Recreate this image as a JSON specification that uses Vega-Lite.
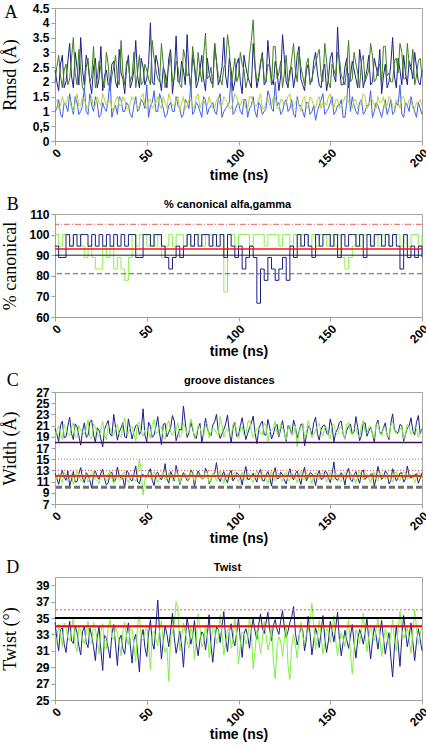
{
"$schema": "https://vega.github.io/schema/vega-lite/v6.json",
"padding": {"left": 0, "top": 1, "right": 3, "bottom": 0},
"spacing": 12,
"background": "white",
"resolve": {"scale": {"color": "independent"}},
"config": {
  "view": {"stroke": "#a6a6a6", "strokeWidth": 1},
  "axis": {"grid": false, "domainColor": "#a0a0a0", "tickColor": "#a0a0a0", "tickSize": 4, "labelPadding": 2, "labelOverlap": false, "labelFont": "Liberation Sans", "labelFontWeight": "bold", "labelFontSize": 12, "labelColor": "#000000", "titleColor": "#000000"},
  "axisY": {"titleFont": "Liberation Serif", "titleFontSize": 18, "titleFontWeight": "normal", "titleX": -45, "titleBaseline": "middle"}
},
"datasets": {
"A": [
{"t":0,"a":2.4,"b":1.0,"c":2.0,"d":1.3},{"t":2,"a":1.7,"b":1.4,"c":2.9,"d":1.1},{"t":4,"a":2.9,"b":0.8,"c":1.8,"d":1.5},{"t":6,"a":2.0,"b":1.2,"c":2.6,"d":1.2},{"t":8,"a":3.3,"b":1.6,"c":2.1,"d":1.4},{"t":10,"a":1.8,"b":0.9,"c":3.5,"d":1.0},{"t":12,"a":2.5,"b":1.3,"c":1.9,"d":1.6},{"t":14,"a":3.5,"b":1.0,"c":2.4,"d":1.2},{"t":16,"a":1.9,"b":1.8,"c":1.7,"d":1.4},{"t":18,"a":2.6,"b":0.9,"c":2.8,"d":1.1},
{"t":20,"a":1.6,"b":1.2,"c":2.2,"d":1.5},{"t":22,"a":2.8,"b":1.5,"c":1.8,"d":1.2},{"t":24,"a":2.1,"b":0.8,"c":2.7,"d":1.3},{"t":26,"a":1.7,"b":1.3,"c":2.0,"d":1.6},{"t":28,"a":2.4,"b":1.0,"c":3.0,"d":1.2},{"t":30,"a":1.9,"b":2.1,"c":1.7,"d":1.4},{"t":32,"a":2.7,"b":1.1,"c":2.5,"d":1.0},{"t":34,"a":1.8,"b":0.9,"c":2.1,"d":1.5},{"t":36,"a":2.3,"b":1.4,"c":3.4,"d":1.2},{"t":38,"a":1.6,"b":1.0,"c":1.9,"d":1.4},
{"t":40,"a":2.9,"b":1.2,"c":2.6,"d":1.1},{"t":42,"a":2.0,"b":0.8,"c":2.2,"d":1.5},{"t":44,"a":3.4,"b":1.5,"c":1.8,"d":1.3},{"t":46,"a":1.8,"b":1.1,"c":2.9,"d":1.2},{"t":48,"a":2.5,"b":1.3,"c":2.0,"d":1.6},{"t":50,"a":2.1,"b":1.9,"c":2.4,"d":1.1},{"t":52,"a":4.0,"b":1.2,"c":1.9,"d":1.4},{"t":54,"a":1.9,"b":1.7,"c":2.8,"d":1.2},{"t":56,"a":2.6,"b":1.0,"c":2.1,"d":1.5},{"t":58,"a":1.7,"b":1.4,"c":3.3,"d":1.1},
{"t":60,"a":2.3,"b":0.8,"c":1.8,"d":1.3},{"t":62,"a":2.8,"b":1.2,"c":2.5,"d":1.6},{"t":64,"a":1.6,"b":1.0,"c":2.0,"d":1.2},{"t":66,"a":3.55,"b":1.5,"c":2.7,"d":1.4},{"t":68,"a":2.0,"b":1.1,"c":1.9,"d":1.0},{"t":70,"a":2.4,"b":0.9,"c":3.1,"d":1.5},{"t":72,"a":3.6,"b":1.3,"c":2.2,"d":1.2},{"t":74,"a":1.8,"b":1.9,"c":1.7,"d":1.4},{"t":76,"a":2.5,"b":1.0,"c":2.6,"d":1.1},{"t":78,"a":2.0,"b":1.2,"c":3.0,"d":1.6},
{"t":80,"a":2.9,"b":0.8,"c":2.0,"d":1.3},{"t":82,"a":1.7,"b":1.4,"c":3.65,"d":1.2},{"t":84,"a":2.3,"b":1.1,"c":2.2,"d":1.5},{"t":86,"a":1.9,"b":1.3,"c":1.8,"d":1.1},{"t":88,"a":2.7,"b":0.9,"c":2.7,"d":1.4},{"t":90,"a":2.1,"b":1.6,"c":2.1,"d":1.2},{"t":92,"a":3.5,"b":1.0,"c":2.5,"d":1.5},{"t":94,"a":1.8,"b":1.2,"c":3.6,"d":1.3},{"t":96,"a":2.4,"b":2.2,"c":1.9,"d":1.1},{"t":98,"a":2.0,"b":1.0,"c":2.8,"d":1.6},
{"t":100,"a":2.8,"b":1.3,"c":2.2,"d":1.2},{"t":102,"a":1.6,"b":0.9,"c":2.6,"d":1.4},{"t":104,"a":2.5,"b":1.4,"c":1.8,"d":1.1},{"t":106,"a":2.0,"b":1.1,"c":2.9,"d":1.5},{"t":108,"a":3.3,"b":1.5,"c":4.1,"d":1.3},{"t":110,"a":1.8,"b":0.8,"c":2.0,"d":1.2},{"t":112,"a":2.6,"b":1.2,"c":2.7,"d":1.6},{"t":114,"a":1.9,"b":1.0,"c":2.1,"d":1.1},{"t":116,"a":3.4,"b":1.7,"c":2.6,"d":1.4},{"t":118,"a":2.1,"b":1.1,"c":1.9,"d":1.2},
{"t":120,"a":2.7,"b":2.0,"c":3.2,"d":1.5},{"t":122,"a":1.7,"b":1.3,"c":2.3,"d":1.1},{"t":124,"a":3.6,"b":1.0,"c":1.8,"d":1.4},{"t":126,"a":2.0,"b":1.4,"c":2.9,"d":1.3},{"t":128,"a":2.4,"b":1.1,"c":2.2,"d":1.6},{"t":130,"a":1.8,"b":0.9,"c":3.3,"d":1.2},{"t":132,"a":2.9,"b":1.5,"c":2.0,"d":1.4},{"t":134,"a":2.1,"b":1.2,"c":2.5,"d":1.0},{"t":136,"a":1.7,"b":0.8,"c":1.9,"d":1.5},{"t":138,"a":2.6,"b":1.3,"c":2.8,"d":1.2},
{"t":140,"a":2.0,"b":1.0,"c":2.1,"d":1.4},{"t":142,"a":3.0,"b":0.7,"c":2.6,"d":1.1},{"t":144,"a":1.9,"b":1.2,"c":3.1,"d":1.5},{"t":146,"a":2.4,"b":1.6,"c":2.0,"d":1.3},{"t":148,"a":1.7,"b":1.0,"c":2.7,"d":1.2},{"t":150,"a":2.8,"b":1.3,"c":1.8,"d":1.6},{"t":152,"a":2.2,"b":0.9,"c":2.4,"d":1.1},{"t":154,"a":3.85,"b":1.2,"c":3.0,"d":1.4},{"t":156,"a":1.9,"b":1.4,"c":2.2,"d":1.2},{"t":158,"a":2.5,"b":0.8,"c":1.9,"d":1.5},
{"t":160,"a":1.8,"b":2.3,"c":3.4,"d":1.3},{"t":162,"a":2.7,"b":1.5,"c":2.1,"d":1.1},{"t":164,"a":2.1,"b":1.0,"c":2.6,"d":1.4},{"t":166,"a":3.1,"b":1.3,"c":1.8,"d":1.2},{"t":168,"a":1.8,"b":0.9,"c":2.9,"d":1.6},{"t":170,"a":2.4,"b":1.2,"c":2.2,"d":1.1},{"t":172,"a":1.9,"b":1.7,"c":3.3,"d":1.4},{"t":174,"a":2.8,"b":1.0,"c":2.0,"d":1.2},{"t":176,"a":2.2,"b":1.2,"c":2.5,"d":1.5},{"t":178,"a":1.6,"b":0.8,"c":1.9,"d":1.3},
{"t":180,"a":2.6,"b":1.4,"c":3.2,"d":1.1},{"t":182,"a":2.0,"b":1.1,"c":2.3,"d":1.5},{"t":184,"a":3.5,"b":0.9,"c":2.0,"d":1.2},{"t":186,"a":1.8,"b":1.3,"c":2.8,"d":1.4},{"t":188,"a":2.4,"b":1.9,"c":3.3,"d":1.1},{"t":190,"a":2.9,"b":0.8,"c":2.1,"d":1.5},{"t":192,"a":1.9,"b":1.2,"c":3.3,"d":1.2},{"t":194,"a":2.5,"b":1.5,"c":2.4,"d":1.4},{"t":196,"a":3.0,"b":1.0,"c":1.9,"d":1.1},{"t":198,"a":2.0,"b":1.3,"c":2.7,"d":1.3},
{"t":200,"a":2.4,"b":0.9,"c":2.2,"d":1.2},
{"t":1,"a":2.0,"b":1.1,"c":2.5,"d":1.4},{"t":3,"a":2.6,"b":0.9,"c":2.2,"d":1.2},{"t":5,"a":1.8,"b":1.3,"c":2.4,"d":1.3},{"t":7,"a":2.7,"b":1.0,"c":1.9,"d":1.5},{"t":9,"a":2.2,"b":1.2,"c":2.8,"d":1.1},{"t":11,"a":3.0,"b":1.5,"c":2.3,"d":1.3},{"t":13,"a":1.9,"b":0.9,"c":3.1,"d":1.2},{"t":15,"a":2.4,"b":1.2,"c":1.8,"d":1.5},{"t":17,"a":2.9,"b":1.0,"c":2.5,"d":1.2},{"t":19,"a":2.0,"b":1.6,"c":2.0,"d":1.4},
{"t":21,"a":2.5,"b":1.0,"c":3.2,"d":1.1},{"t":23,"a":1.8,"b":1.3,"c":2.1,"d":1.5},{"t":25,"a":3.2,"b":0.9,"c":2.4,"d":1.2},{"t":27,"a":2.2,"b":1.1,"c":1.8,"d":1.4},{"t":29,"a":1.9,"b":1.4,"c":2.6,"d":1.3},{"t":31,"a":2.6,"b":0.8,"c":2.2,"d":1.1},{"t":33,"a":2.0,"b":1.2,"c":2.9,"d":1.4},{"t":35,"a":3.1,"b":1.5,"c":1.9,"d":1.2},{"t":37,"a":2.1,"b":1.0,"c":2.3,"d":1.5},{"t":39,"a":2.5,"b":1.3,"c":2.7,"d":1.1},
{"t":41,"a":1.8,"b":0.9,"c":2.0,"d":1.3},{"t":43,"a":2.4,"b":1.2,"c":3.0,"d":1.4},{"t":45,"a":2.2,"b":1.0,"c":2.3,"d":1.1},{"t":47,"a":2.8,"b":1.4,"c":1.9,"d":1.5},{"t":49,"a":1.9,"b":1.1,"c":2.6,"d":1.2},{"t":51,"a":2.6,"b":0.8,"c":2.1,"d":1.4},{"t":53,"a":2.0,"b":1.3,"c":3.4,"d":1.1},{"t":55,"a":2.9,"b":1.0,"c":2.4,"d":1.3},{"t":57,"a":2.1,"b":1.6,"c":2.0,"d":1.2},{"t":59,"a":2.5,"b":1.1,"c":2.6,"d":1.5},
{"t":61,"a":1.8,"b":0.9,"c":2.2,"d":1.1},{"t":63,"a":3.1,"b":1.3,"c":3.0,"d":1.4},{"t":65,"a":2.2,"b":1.0,"c":2.1,"d":1.2},{"t":67,"a":2.0,"b":1.2,"c":2.5,"d":1.5},{"t":69,"a":2.7,"b":0.8,"c":1.8,"d":1.3},{"t":71,"a":1.9,"b":1.4,"c":2.8,"d":1.1},{"t":73,"a":2.3,"b":1.1,"c":2.3,"d":1.4},{"t":75,"a":2.9,"b":0.9,"c":3.2,"d":1.2},{"t":77,"a":1.8,"b":1.3,"c":2.0,"d":1.5},{"t":79,"a":2.4,"b":1.0,"c":2.4,"d":1.1},
{"t":81,"a":2.1,"b":1.5,"c":2.9,"d":1.4},{"t":83,"a":2.8,"b":0.9,"c":2.1,"d":1.2},{"t":85,"a":2.0,"b":1.2,"c":2.5,"d":1.3},{"t":87,"a":3.3,"b":1.0,"c":3.3,"d":1.1},{"t":89,"a":1.9,"b":1.4,"c":2.2,"d":1.5},{"t":91,"a":2.5,"b":0.8,"c":1.9,"d":1.2},{"t":93,"a":2.2,"b":1.1,"c":2.6,"d":1.4},{"t":95,"a":2.8,"b":1.3,"c":3.1,"d":1.1},{"t":97,"a":1.7,"b":0.9,"c":2.3,"d":1.3},{"t":99,"a":2.6,"b":1.2,"c":2.0,"d":1.5},
{"t":101,"a":2.0,"b":1.0,"c":3.0,"d":1.2},{"t":103,"a":2.9,"b":1.4,"c":2.4,"d":1.4},{"t":105,"a":2.2,"b":0.8,"c":2.1,"d":1.1},{"t":107,"a":1.8,"b":1.2,"c":3.4,"d":1.5},{"t":109,"a":2.5,"b":1.0,"c":2.6,"d":1.2},{"t":111,"a":2.1,"b":1.3,"c":2.2,"d":1.4},{"t":113,"a":3.0,"b":0.9,"c":2.9,"d":1.1},{"t":115,"a":2.0,"b":1.1,"c":2.0,"d":1.3},{"t":117,"a":2.6,"b":1.5,"c":2.5,"d":1.2},{"t":119,"a":1.9,"b":1.0,"c":3.2,"d":1.5},
{"t":121,"a":2.4,"b":1.2,"c":2.1,"d":1.1},{"t":123,"a":2.2,"b":0.9,"c":2.7,"d":1.4},{"t":125,"a":2.8,"b":1.3,"c":2.3,"d":1.2},{"t":127,"a":1.8,"b":1.0,"c":1.9,"d":1.5},{"t":129,"a":2.5,"b":1.4,"c":2.8,"d":1.1},{"t":131,"a":2.2,"b":0.8,"c":2.4,"d":1.3},{"t":133,"a":3.2,"b":1.2,"c":3.0,"d":1.2},{"t":135,"a":1.9,"b":1.0,"c":2.2,"d":1.4},{"t":137,"a":2.4,"b":1.3,"c":2.6,"d":1.1},{"t":139,"a":2.0,"b":0.9,"c":1.9,"d":1.5},
{"t":141,"a":2.7,"b":1.2,"c":2.4,"d":1.2},{"t":143,"a":2.3,"b":1.0,"c":2.9,"d":1.4},{"t":145,"a":1.8,"b":1.4,"c":2.2,"d":1.1},{"t":147,"a":2.6,"b":0.9,"c":3.3,"d":1.3},{"t":149,"a":2.1,"b":1.1,"c":2.0,"d":1.5},{"t":151,"a":3.0,"b":1.5,"c":2.6,"d":1.2},{"t":153,"a":2.0,"b":1.0,"c":2.2,"d":1.4},{"t":155,"a":2.5,"b":1.2,"c":2.8,"d":1.1},{"t":157,"a":1.9,"b":0.8,"c":2.1,"d":1.3},{"t":159,"a":2.8,"b":1.3,"c":2.5,"d":1.5},
{"t":161,"a":2.2,"b":1.0,"c":2.0,"d":1.2},{"t":163,"a":2.4,"b":1.2,"c":3.0,"d":1.4},{"t":165,"a":1.8,"b":0.9,"c":2.3,"d":1.1},{"t":167,"a":2.6,"b":1.4,"c":2.7,"d":1.3},{"t":169,"a":2.1,"b":1.0,"c":2.0,"d":1.5},{"t":171,"a":2.9,"b":1.2,"c":2.4,"d":1.2},{"t":173,"a":2.0,"b":0.8,"c":2.9,"d":1.4},{"t":175,"a":2.5,"b":1.3,"c":2.1,"d":1.1},{"t":177,"a":3.1,"b":1.0,"c":2.6,"d":1.3},{"t":179,"a":2.2,"b":1.1,"c":3.2,"d":1.5},
{"t":181,"a":1.8,"b":0.9,"c":2.2,"d":1.2},{"t":183,"a":2.6,"b":1.4,"c":2.0,"d":1.4},{"t":185,"a":2.2,"b":1.0,"c":2.7,"d":1.1},{"t":187,"a":2.8,"b":1.2,"c":2.3,"d":1.3},{"t":189,"a":1.9,"b":0.9,"c":3.0,"d":1.5},{"t":191,"a":2.3,"b":1.3,"c":2.1,"d":1.2},{"t":193,"a":2.7,"b":1.0,"c":2.6,"d":1.4},{"t":195,"a":2.1,"b":1.2,"c":3.1,"d":1.1},{"t":197,"a":2.5,"b":0.8,"c":2.2,"d":1.3},{"t":199,"a":1.9,"b":1.1,"c":2.8,"d":1.4}
],
"B": [
{"t":0,"n":94.4,"g":100},{"t":2,"n":88.9,"g":94.4},{"t":4,"n":88.9,"g":100},{"t":6,"n":100,"g":100},{"t":8,"n":94.4,"g":94.4},{"t":10,"n":100,"g":100},{"t":12,"n":94.4,"g":100},{"t":14,"n":100,"g":94.4},{"t":16,"n":100,"g":88.9},{"t":18,"n":94.4,"g":94.4},
{"t":20,"n":100,"g":88.9},{"t":22,"n":94.4,"g":83.3},{"t":24,"n":100,"g":83.3},{"t":26,"n":94.4,"g":94.4},{"t":28,"n":100,"g":88.9},{"t":30,"n":94.4,"g":94.4},{"t":32,"n":100,"g":83.3},{"t":34,"n":94.4,"g":88.9},{"t":36,"n":100,"g":83.3},{"t":38,"n":94.4,"g":77.8},
{"t":40,"n":100,"g":88.9},{"t":42,"n":100,"g":100},{"t":44,"n":88.9,"g":94.4},{"t":46,"n":88.9,"g":100},{"t":48,"n":100,"g":100},{"t":50,"n":100,"g":94.4},{"t":52,"n":94.4,"g":100},{"t":54,"n":100,"g":94.4},{"t":56,"n":100,"g":100},{"t":58,"n":94.4,"g":88.9},
{"t":60,"n":88.9,"g":94.4},{"t":62,"n":83.3,"g":100},{"t":64,"n":88.9,"g":94.4},{"t":66,"n":94.4,"g":100},{"t":68,"n":88.9,"g":100},{"t":70,"n":94.4,"g":94.4},{"t":72,"n":100,"g":100},{"t":74,"n":94.4,"g":94.4},{"t":76,"n":100,"g":100},{"t":78,"n":94.4,"g":100},
{"t":80,"n":100,"g":94.4},{"t":82,"n":100,"g":100},{"t":84,"n":94.4,"g":100},{"t":86,"n":100,"g":94.4},{"t":88,"n":94.4,"g":100},{"t":90,"n":100,"g":100},{"t":92,"n":88.9,"g":72.2},{"t":94,"n":100,"g":100},{"t":96,"n":94.4,"g":100},{"t":98,"n":88.9,"g":94.4},
{"t":100,"n":94.4,"g":100},{"t":102,"n":83.3,"g":100},{"t":104,"n":88.9,"g":100},{"t":106,"n":94.4,"g":94.4},{"t":108,"n":88.9,"g":100},{"t":110,"n":66.7,"g":100},{"t":112,"n":83.3,"g":100},{"t":114,"n":77.8,"g":94.4},{"t":116,"n":88.9,"g":100},{"t":118,"n":83.3,"g":100},
{"t":120,"n":77.8,"g":100},{"t":122,"n":83.3,"g":94.4},{"t":124,"n":88.9,"g":100},{"t":126,"n":77.8,"g":100},{"t":128,"n":94.4,"g":94.4},{"t":130,"n":88.9,"g":100},{"t":132,"n":100,"g":94.4},{"t":134,"n":94.4,"g":100},{"t":136,"n":100,"g":100},{"t":138,"n":94.4,"g":94.4},
{"t":140,"n":88.9,"g":100},{"t":142,"n":100,"g":94.4},{"t":144,"n":94.4,"g":100},{"t":146,"n":100,"g":100},{"t":148,"n":100,"g":94.4},{"t":150,"n":94.4,"g":100},{"t":152,"n":100,"g":94.4},{"t":154,"n":88.9,"g":100},{"t":156,"n":100,"g":88.9},{"t":158,"n":94.4,"g":83.3},
{"t":160,"n":100,"g":88.9},{"t":162,"n":100,"g":94.4},{"t":164,"n":94.4,"g":100},{"t":166,"n":100,"g":94.4},{"t":168,"n":88.9,"g":100},{"t":170,"n":100,"g":100},{"t":172,"n":94.4,"g":94.4},{"t":174,"n":100,"g":100},{"t":176,"n":100,"g":94.4},{"t":178,"n":94.4,"g":100},
{"t":180,"n":100,"g":100},{"t":182,"n":94.4,"g":94.4},{"t":184,"n":100,"g":100},{"t":186,"n":94.4,"g":100},{"t":188,"n":83.3,"g":94.4},{"t":190,"n":100,"g":100},{"t":192,"n":88.9,"g":94.4},{"t":194,"n":94.4,"g":100},{"t":196,"n":88.9,"g":100},{"t":198,"n":94.4,"g":94.4},
{"t":200,"n":88.9,"g":100}
],
"C": [
{"t":0,"un":20.5,"ug":19.0,"ln":12.5,"lg":11.0},{"t":2,"un":18.2,"ug":21.0,"ln":10.5,"lg":12.5},{"t":4,"un":21.8,"ug":18.5,"ln":13.0,"lg":10.8},{"t":6,"un":19.0,"ug":20.5,"ln":11.2,"lg":12.2},{"t":8,"un":22.5,"ug":19.2,"ln":10.2,"lg":11.5},{"t":10,"un":18.5,"ug":21.5,"ln":12.8,"lg":10.5},{"t":12,"un":20.8,"ug":18.8,"ln":11.0,"lg":12.8},{"t":14,"un":17.5,"ug":20.2,"ln":13.5,"lg":11.2},{"t":16,"un":21.5,"ug":19.5,"ln":10.8,"lg":12.0},{"t":18,"un":19.2,"ug":22.0,"ln":12.2,"lg":10.9},
{"t":20,"un":22.0,"ug":18.6,"ln":9.8,"lg":12.6},{"t":22,"un":18.0,"ug":20.8,"ln":12.9,"lg":11.4},{"t":24,"un":20.2,"ug":19.0,"ln":11.4,"lg":10.6},{"t":26,"un":17.2,"ug":21.8,"ln":13.2,"lg":12.4},{"t":28,"un":21.2,"ug":18.4,"ln":10.4,"lg":11.1},{"t":30,"un":19.5,"ug":20.6,"ln":12.4,"lg":12.9},{"t":32,"un":23.0,"ug":19.3,"ln":10.9,"lg":10.7},{"t":34,"un":18.4,"ug":21.2,"ln":13.6,"lg":12.1},{"t":36,"un":20.6,"ug":18.9,"ln":11.6,"lg":11.3},{"t":38,"un":19.0,"ug":22.4,"ln":9.9,"lg":12.7},
{"t":40,"un":22.2,"ug":19.6,"ln":12.6,"lg":10.8},{"t":42,"un":18.6,"ug":20.9,"ln":11.1,"lg":12.3},{"t":44,"un":21.0,"ug":18.3,"ln":13.8,"lg":11.0},{"t":46,"un":19.4,"ug":21.6,"ln":10.6,"lg":15.0},{"t":48,"un":24.0,"ug":19.1,"ln":12.3,"lg":8.6},{"t":50,"un":18.1,"ug":20.4,"ln":11.8,"lg":12.2},{"t":52,"un":20.9,"ug":18.7,"ln":13.3,"lg":11.6},{"t":54,"un":19.3,"ug":22.1,"ln":10.3,"lg":12.8},{"t":56,"un":22.6,"ug":19.8,"ln":12.7,"lg":10.9},{"t":58,"un":17.6,"ug":20.7,"ln":11.3,"lg":12.4},
{"t":60,"un":21.4,"ug":18.5,"ln":14.2,"lg":11.2},{"t":62,"un":19.8,"ug":21.9,"ln":10.7,"lg":12.6},{"t":64,"un":22.8,"ug":19.2,"ln":12.1,"lg":11.0},{"t":66,"un":18.3,"ug":20.3,"ln":13.9,"lg":12.9},{"t":68,"un":20.4,"ug":18.9,"ln":10.5,"lg":10.7},{"t":70,"un":24.5,"ug":21.4,"ln":12.6,"lg":12.1},{"t":72,"un":18.9,"ug":19.5,"ln":11.2,"lg":11.5},{"t":74,"un":21.7,"ug":22.2,"ln":13.1,"lg":12.7},{"t":76,"un":19.1,"ug":18.6,"ln":10.1,"lg":10.9},{"t":78,"un":20.7,"ug":20.9,"ln":12.9,"lg":12.3},
{"t":80,"un":18.0,"ug":19.3,"ln":11.5,"lg":11.4},{"t":82,"un":22.3,"ug":21.3,"ln":13.4,"lg":12.8},{"t":84,"un":19.6,"ug":18.8,"ln":10.6,"lg":10.8},{"t":86,"un":21.1,"ug":20.6,"ln":12.4,"lg":12.5},{"t":88,"un":23.0,"ug":19.7,"ln":14.4,"lg":11.1},{"t":90,"un":18.7,"ug":22.6,"ln":11.0,"lg":12.9},{"t":92,"un":20.3,"ug":18.9,"ln":12.8,"lg":10.6},{"t":94,"un":22.9,"ug":20.5,"ln":10.8,"lg":12.4},{"t":96,"un":17.9,"ug":19.1,"ln":13.0,"lg":11.3},{"t":98,"un":21.6,"ug":21.7,"ln":11.7,"lg":12.6},
{"t":100,"un":19.2,"ug":18.7,"ln":12.3,"lg":10.9},{"t":102,"un":22.4,"ug":20.8,"ln":10.4,"lg":12.7},{"t":104,"un":18.5,"ug":19.4,"ln":13.7,"lg":11.2},{"t":106,"un":20.6,"ug":22.0,"ln":11.4,"lg":12.3},{"t":108,"un":22.7,"ug":18.9,"ln":12.5,"lg":10.8},{"t":110,"un":17.8,"ug":20.4,"ln":10.9,"lg":12.9},{"t":112,"un":21.3,"ug":19.6,"ln":13.2,"lg":11.5},{"t":114,"un":19.4,"ug":21.5,"ln":11.1,"lg":12.2},{"t":116,"un":22.1,"ug":18.2,"ln":12.8,"lg":10.7},{"t":118,"un":18.6,"ug":20.1,"ln":10.2,"lg":12.8},
{"t":120,"un":20.8,"ug":21.8,"ln":13.5,"lg":11.1},{"t":122,"un":19.0,"ug":19.2,"ln":11.6,"lg":12.5},{"t":124,"un":21.9,"ug":20.6,"ln":12.2,"lg":11.0},{"t":126,"un":18.2,"ug":18.4,"ln":10.6,"lg":12.6},{"t":128,"un":20.5,"ug":21.1,"ln":13.3,"lg":11.3},{"t":130,"un":22.0,"ug":19.5,"ln":11.3,"lg":12.0},{"t":132,"un":18.8,"ug":17.2,"ln":12.9,"lg":10.8},{"t":134,"un":21.2,"ug":20.8,"ln":10.5,"lg":12.9},{"t":136,"un":17.4,"ug":19.0,"ln":13.6,"lg":11.5},{"t":138,"un":20.9,"ug":21.9,"ln":11.9,"lg":12.2},
{"t":140,"un":19.3,"ug":18.8,"ln":12.4,"lg":10.6},{"t":142,"un":22.5,"ug":20.2,"ln":10.3,"lg":12.7},{"t":144,"un":18.4,"ug":21.4,"ln":13.0,"lg":11.4},{"t":146,"un":21.0,"ug":19.1,"ln":11.5,"lg":12.5},{"t":148,"un":19.7,"ug":20.7,"ln":12.7,"lg":10.9},{"t":150,"un":22.2,"ug":18.6,"ln":10.8,"lg":12.8},{"t":152,"un":18.1,"ug":21.2,"ln":14.5,"lg":11.2},{"t":154,"un":20.4,"ug":19.4,"ln":11.2,"lg":12.3},{"t":156,"un":21.8,"ug":20.9,"ln":12.6,"lg":11.0},{"t":158,"un":18.7,"ug":18.5,"ln":10.4,"lg":12.6},
{"t":160,"un":20.9,"ug":21.6,"ln":13.4,"lg":11.6},{"t":162,"un":19.5,"ug":19.3,"ln":11.0,"lg":12.1},{"t":164,"un":22.6,"ug":20.5,"ln":12.8,"lg":10.7},{"t":166,"un":18.3,"ug":18.9,"ln":10.7,"lg":12.9},{"t":168,"un":21.4,"ug":22.0,"ln":13.1,"lg":11.3},{"t":170,"un":19.1,"ug":19.6,"ln":11.8,"lg":12.4},{"t":172,"un":20.7,"ug":20.9,"ln":12.3,"lg":10.8},{"t":174,"un":18.0,"ug":18.7,"ln":10.2,"lg":12.7},{"t":176,"un":22.0,"ug":21.5,"ln":13.7,"lg":11.1},{"t":178,"un":19.6,"ug":19.2,"ln":11.4,"lg":12.5},
{"t":180,"un":21.5,"ug":20.6,"ln":12.9,"lg":11.5},{"t":182,"un":18.5,"ug":18.8,"ln":10.6,"lg":12.2},{"t":184,"un":23.1,"ug":21.8,"ln":13.3,"lg":10.9},{"t":186,"un":19.9,"ug":19.5,"ln":11.1,"lg":12.8},{"t":188,"un":21.2,"ug":20.3,"ln":12.5,"lg":11.2},{"t":190,"un":18.2,"ug":18.6,"ln":10.9,"lg":12.6},{"t":192,"un":20.6,"ug":21.2,"ln":13.8,"lg":11.4},{"t":194,"un":22.4,"ug":19.4,"ln":11.6,"lg":12.1},{"t":196,"un":19.3,"ug":20.7,"ln":12.2,"lg":10.8},{"t":198,"un":22.8,"ug":18.9,"ln":10.7,"lg":12.9},
{"t":200,"un":20.4,"ug":20.2,"ln":12.6,"lg":11.5},
{"t":1,"un":19.5,"ug":20.0,"ln":11.6,"lg":12.0},{"t":3,"un":21.0,"ug":19.6,"ln":12.0,"lg":11.6},{"t":5,"un":18.8,"ug":21.2,"ln":11.8,"lg":12.6},{"t":7,"un":20.9,"ug":19.4,"ln":12.9,"lg":11.3},{"t":9,"un":19.6,"ug":20.7,"ln":11.4,"lg":12.4},{"t":11,"un":21.3,"ug":19.1,"ln":10.9,"lg":11.8},{"t":13,"un":19.2,"ug":21.0,"ln":12.4,"lg":12.2},{"t":15,"un":20.0,"ug":19.8,"ln":11.7,"lg":11.0},{"t":17,"un":18.9,"ug":20.4,"ln":12.6,"lg":12.3},{"t":19,"un":21.7,"ug":19.0,"ln":11.2,"lg":11.7},
{"t":21,"un":19.4,"ug":21.3,"ln":12.2,"lg":12.9},{"t":23,"un":20.6,"ug":19.7,"ln":11.9,"lg":11.2},{"t":25,"un":18.6,"ug":20.2,"ln":12.5,"lg":12.1},{"t":27,"un":20.3,"ug":19.4,"ln":11.5,"lg":11.8},{"t":29,"un":21.9,"ug":21.0,"ln":10.8,"lg":12.4},{"t":31,"un":19.1,"ug":19.6,"ln":12.7,"lg":11.5},{"t":33,"un":20.7,"ug":20.5,"ln":11.3,"lg":12.2},{"t":35,"un":19.8,"ug":19.3,"ln":12.0,"lg":11.3},{"t":37,"un":21.5,"ug":21.1,"ln":11.6,"lg":12.5},{"t":39,"un":18.8,"ug":19.9,"ln":12.9,"lg":11.6},
{"t":41,"un":20.5,"ug":20.6,"ln":11.4,"lg":12.0},{"t":43,"un":19.9,"ug":19.5,"ln":12.3,"lg":11.4},{"t":45,"un":21.2,"ug":21.4,"ln":11.0,"lg":12.6},{"t":47,"un":20.1,"ug":19.8,"ln":12.1,"lg":13.0},{"t":49,"un":19.3,"ug":20.3,"ln":11.9,"lg":11.3},{"t":51,"un":21.6,"ug":19.9,"ln":12.6,"lg":12.4},{"t":53,"un":18.9,"ug":21.2,"ln":11.2,"lg":11.7},{"t":55,"un":20.8,"ug":19.6,"ln":12.4,"lg":12.1},{"t":57,"un":19.6,"ug":20.8,"ln":11.8,"lg":11.5},{"t":59,"un":21.2,"ug":19.2,"ln":12.2,"lg":12.7},
{"t":61,"un":19.0,"ug":21.0,"ln":11.5,"lg":11.6},{"t":63,"un":20.6,"ug":19.8,"ln":12.8,"lg":12.3},{"t":65,"un":21.8,"ug":20.1,"ln":11.1,"lg":11.4},{"t":67,"un":19.4,"ug":21.5,"ln":12.3,"lg":12.2},{"t":69,"un":20.2,"ug":19.4,"ln":11.7,"lg":11.9},{"t":71,"un":21.5,"ug":20.6,"ln":12.0,"lg":12.5},{"t":73,"un":19.7,"ug":19.9,"ln":11.4,"lg":11.2},{"t":75,"un":20.4,"ug":21.0,"ln":12.6,"lg":12.4},{"t":77,"un":18.7,"ug":19.5,"ln":11.9,"lg":11.7},{"t":79,"un":21.4,"ug":20.7,"ln":12.2,"lg":12.1},
{"t":81,"un":19.8,"ug":19.1,"ln":11.6,"lg":11.6},{"t":83,"un":20.5,"ug":21.4,"ln":12.7,"lg":12.6},{"t":85,"un":19.2,"ug":19.8,"ln":11.3,"lg":11.4},{"t":87,"un":21.7,"ug":20.4,"ln":12.5,"lg":12.2},{"t":89,"un":20.0,"ug":19.3,"ln":11.8,"lg":11.9},{"t":91,"un":19.5,"ug":21.1,"ln":12.1,"lg":11.5},{"t":93,"un":21.3,"ug":20.0,"ln":11.5,"lg":12.3},{"t":95,"un":19.9,"ug":19.7,"ln":12.4,"lg":11.8},{"t":97,"un":20.6,"ug":21.2,"ln":11.1,"lg":12.4},{"t":99,"un":19.1,"ug":19.9,"ln":12.6,"lg":11.6},
{"t":101,"un":21.0,"ug":20.2,"ln":11.9,"lg":12.1},{"t":103,"un":20.3,"ug":19.2,"ln":12.3,"lg":11.7},{"t":105,"un":19.6,"ug":21.5,"ln":11.4,"lg":12.5},{"t":107,"un":21.4,"ug":20.1,"ln":12.0,"lg":11.4},{"t":109,"un":19.8,"ug":19.6,"ln":11.7,"lg":12.2},{"t":111,"un":20.1,"ug":20.9,"ln":12.5,"lg":11.8},{"t":113,"un":21.8,"ug":19.3,"ln":11.2,"lg":12.6},{"t":115,"un":19.3,"ug":21.0,"ln":12.2,"lg":11.5},{"t":117,"un":20.7,"ug":19.8,"ln":11.8,"lg":12.0},{"t":119,"un":19.5,"ug":20.5,"ln":12.4,"lg":11.7},
{"t":121,"un":21.2,"ug":19.5,"ln":11.5,"lg":12.3},{"t":123,"un":20.4,"ug":21.3,"ln":12.7,"lg":11.6},{"t":125,"un":19.7,"ug":19.7,"ln":11.3,"lg":12.4},{"t":127,"un":21.0,"ug":20.6,"ln":12.1,"lg":11.2},{"t":129,"un":19.4,"ug":19.2,"ln":11.9,"lg":12.5},{"t":131,"un":20.8,"ug":20.9,"ln":12.4,"lg":11.7},{"t":133,"un":19.9,"ug":19.8,"ln":11.6,"lg":12.1},{"t":135,"un":21.3,"ug":21.2,"ln":12.3,"lg":11.4},{"t":137,"un":19.2,"ug":19.5,"ln":11.1,"lg":12.6},{"t":139,"un":20.5,"ug":20.3,"ln":12.6,"lg":11.8},
{"t":141,"un":21.5,"ug":19.4,"ln":11.8,"lg":12.2},{"t":143,"un":19.6,"ug":21.0,"ln":12.2,"lg":11.5},{"t":145,"un":20.3,"ug":19.9,"ln":11.4,"lg":12.4},{"t":147,"un":21.1,"ug":20.6,"ln":12.8,"lg":11.9},{"t":149,"un":19.3,"ug":19.3,"ln":11.7,"lg":12.0},{"t":151,"un":20.8,"ug":21.1,"ln":12.3,"lg":11.6},{"t":153,"un":19.8,"ug":19.7,"ln":11.5,"lg":12.5},{"t":155,"un":21.6,"ug":20.4,"ln":12.1,"lg":11.3},{"t":157,"un":19.5,"ug":19.6,"ln":11.9,"lg":12.3},{"t":159,"un":20.2,"ug":21.3,"ln":12.5,"lg":11.8},
{"t":161,"un":21.3,"ug":19.8,"ln":11.3,"lg":12.6},{"t":163,"un":19.9,"ug":20.5,"ln":12.2,"lg":11.5},{"t":165,"un":20.6,"ug":19.4,"ln":11.7,"lg":12.2},{"t":167,"un":19.2,"ug":21.0,"ln":12.6,"lg":11.7},{"t":169,"un":21.5,"ug":19.9,"ln":11.4,"lg":12.4},{"t":171,"un":20.0,"ug":20.7,"ln":12.0,"lg":11.6},{"t":173,"un":19.6,"ug":19.5,"ln":12.4,"lg":12.1},{"t":175,"un":21.1,"ug":21.2,"ln":11.6,"lg":11.4},{"t":177,"un":19.8,"ug":19.7,"ln":12.3,"lg":12.6},{"t":179,"un":20.6,"ug":20.5,"ln":11.8,"lg":11.8},
{"t":181,"un":19.3,"ug":19.3,"ln":12.5,"lg":12.3},{"t":183,"un":21.4,"ug":21.0,"ln":11.2,"lg":11.6},{"t":185,"un":20.2,"ug":20.0,"ln":12.2,"lg":12.4},{"t":187,"un":19.7,"ug":19.6,"ln":11.7,"lg":11.5},{"t":189,"un":21.0,"ug":20.8,"ln":12.6,"lg":12.0},{"t":191,"un":19.4,"ug":19.4,"ln":11.5,"lg":12.7},{"t":193,"un":20.9,"ug":20.9,"ln":12.1,"lg":11.6},{"t":195,"un":20.1,"ug":19.8,"ln":11.9,"lg":12.3},{"t":197,"un":21.6,"ug":20.4,"ln":12.4,"lg":11.7},{"t":199,"un":19.5,"ug":19.7,"ln":11.6,"lg":12.2}
],
"D": [
{"t":0,"n":34.5,"g":33.0},{"t":2,"n":31.0,"g":34.2},{"t":4,"n":33.8,"g":31.5},{"t":6,"n":30.8,"g":33.9},{"t":8,"n":34.6,"g":32.2},{"t":10,"n":31.9,"g":35.0},{"t":12,"n":33.2,"g":30.9},{"t":14,"n":30.5,"g":33.5},{"t":16,"n":34.0,"g":31.8},{"t":18,"n":31.4,"g":34.6},
{"t":20,"n":32.8,"g":32.0},{"t":22,"n":29.8,"g":33.7},{"t":24,"n":33.9,"g":30.6},{"t":26,"n":28.6,"g":34.3},{"t":28,"n":32.5,"g":31.2},{"t":30,"n":30.1,"g":34.8},{"t":32,"n":34.2,"g":32.4},{"t":34,"n":29.2,"g":33.1},{"t":36,"n":32.9,"g":30.4},{"t":38,"n":30.6,"g":34.5},
{"t":40,"n":34.4,"g":31.7},{"t":42,"n":29.5,"g":33.6},{"t":44,"n":33.0,"g":29.7},{"t":46,"n":28.4,"g":35.2},{"t":48,"n":33.6,"g":32.3},{"t":50,"n":30.3,"g":34.1},{"t":52,"n":34.8,"g":28.7},{"t":54,"n":31.2,"g":33.4},{"t":56,"n":37.2,"g":31.6},{"t":58,"n":30.0,"g":34.7},
{"t":60,"n":34.1,"g":30.8},{"t":62,"n":31.5,"g":27.3},{"t":64,"n":35.6,"g":33.2},{"t":66,"n":30.7,"g":37.0},{"t":68,"n":33.4,"g":31.0},{"t":70,"n":29.0,"g":34.4},{"t":72,"n":35.1,"g":32.1},{"t":74,"n":31.8,"g":33.8},{"t":76,"n":34.7,"g":29.9},{"t":78,"n":30.4,"g":35.5},
{"t":80,"n":33.3,"g":31.4},{"t":82,"n":31.1,"g":34.0},{"t":84,"n":35.4,"g":30.2},{"t":86,"n":29.6,"g":33.9},{"t":88,"n":33.9,"g":31.9},{"t":90,"n":32.0,"g":35.4},{"t":92,"n":35.8,"g":30.5},{"t":94,"n":30.9,"g":33.6},{"t":96,"n":34.3,"g":31.3},{"t":98,"n":31.6,"g":34.9},
{"t":100,"n":35.0,"g":29.4},{"t":102,"n":30.2,"g":33.3},{"t":104,"n":33.7,"g":31.8},{"t":106,"n":31.3,"g":35.1},{"t":108,"n":34.9,"g":28.8},{"t":110,"n":32.4,"g":33.5},{"t":112,"n":35.5,"g":30.7},{"t":114,"n":33.1,"g":34.6},{"t":116,"n":35.7,"g":31.1},{"t":118,"n":32.2,"g":33.9},
{"t":120,"n":34.8,"g":27.6},{"t":122,"n":33.0,"g":32.7},{"t":124,"n":35.9,"g":30.3},{"t":126,"n":32.6,"g":34.2},{"t":128,"n":34.5,"g":27.5},{"t":130,"n":36.4,"g":33.0},{"t":132,"n":31.7,"g":30.1},{"t":134,"n":34.0,"g":34.5},{"t":136,"n":31.0,"g":31.9},{"t":138,"n":35.2,"g":33.4},
{"t":140,"n":30.5,"g":36.8},{"t":142,"n":33.8,"g":31.2},{"t":144,"n":31.4,"g":34.7},{"t":146,"n":35.3,"g":30.6},{"t":148,"n":30.8,"g":33.8},{"t":150,"n":34.6,"g":32.0},{"t":152,"n":32.1,"g":35.3},{"t":154,"n":35.7,"g":30.4},{"t":156,"n":30.4,"g":33.2},{"t":158,"n":33.5,"g":31.5},
{"t":160,"n":31.3,"g":34.9},{"t":162,"n":34.2,"g":28.2},{"t":164,"n":30.1,"g":33.6},{"t":166,"n":33.6,"g":31.9},{"t":168,"n":31.8,"g":35.6},{"t":170,"n":35.0,"g":30.9},{"t":172,"n":30.0,"g":34.1},{"t":174,"n":33.9,"g":32.2},{"t":176,"n":31.2,"g":35.0},{"t":178,"n":34.7,"g":30.3},
{"t":180,"n":30.6,"g":33.7},{"t":182,"n":33.2,"g":31.6},{"t":184,"n":27.8,"g":34.8},{"t":186,"n":34.1,"g":31.0},{"t":188,"n":29.1,"g":35.8},{"t":190,"n":35.3,"g":32.5},{"t":192,"n":31.5,"g":33.9},{"t":194,"n":34.4,"g":30.7},{"t":196,"n":29.8,"g":36.0},{"t":198,"n":33.7,"g":31.8},
{"t":200,"n":31.0,"g":34.4},
{"t":1,"n":32.5,"g":32.0},{"t":3,"n":33.6,"g":33.2},{"t":5,"n":31.8,"g":34.4},{"t":7,"n":33.0,"g":32.6},{"t":9,"n":32.2,"g":33.7},{"t":11,"n":34.1,"g":31.6},{"t":13,"n":31.6,"g":34.0},{"t":15,"n":33.3,"g":32.4},{"t":17,"n":32.0,"g":33.1},{"t":19,"n":33.8,"g":31.9},
{"t":21,"n":31.5,"g":34.5},{"t":23,"n":32.6,"g":32.3},{"t":25,"n":31.1,"g":33.4},{"t":27,"n":32.9,"g":31.6},{"t":29,"n":31.3,"g":33.9},{"t":31,"n":33.1,"g":32.6},{"t":33,"n":31.7,"g":34.0},{"t":35,"n":32.4,"g":31.9},{"t":37,"n":31.2,"g":33.3},{"t":39,"n":33.0,"g":32.7},
{"t":41,"n":31.8,"g":33.8},{"t":43,"n":32.3,"g":31.5},{"t":45,"n":30.9,"g":34.1},{"t":47,"n":32.6,"g":32.5},{"t":49,"n":31.4,"g":33.3},{"t":51,"n":33.1,"g":31.8},{"t":53,"n":32.0,"g":33.0},{"t":55,"n":34.0,"g":32.4},{"t":57,"n":33.2,"g":33.5},{"t":59,"n":32.1,"g":32.0},
{"t":61,"n":33.0,"g":31.4},{"t":63,"n":33.4,"g":32.8},{"t":65,"n":32.6,"g":34.3},{"t":67,"n":31.9,"g":36.2},{"t":69,"n":31.7,"g":32.6},{"t":71,"n":32.4,"g":33.2},{"t":73,"n":33.5,"g":31.3},{"t":75,"n":32.8,"g":33.1},{"t":77,"n":31.9,"g":32.4},{"t":79,"n":32.3,"g":33.8},
{"t":81,"n":33.0,"g":32.0},{"t":83,"n":32.9,"g":33.0},{"t":85,"n":31.6,"g":31.8},{"t":87,"n":32.2,"g":33.5},{"t":89,"n":33.6,"g":32.7},{"t":91,"n":34.0,"g":33.1},{"t":93,"n":32.5,"g":31.9},{"t":95,"n":33.3,"g":33.6},{"t":97,"n":32.4,"g":32.2},{"t":99,"n":33.2,"g":32.9},
{"t":101,"n":32.3,"g":31.7},{"t":103,"n":33.1,"g":33.0},{"t":105,"n":32.8,"g":32.6},{"t":107,"n":33.6,"g":33.4},{"t":109,"n":33.4,"g":30.9},{"t":111,"n":34.2,"g":32.5},{"t":113,"n":33.8,"g":32.3},{"t":115,"n":34.4,"g":32.9},{"t":117,"n":33.6,"g":32.0},{"t":119,"n":34.1,"g":29.8},
{"t":121,"n":33.6,"g":31.4},{"t":123,"n":34.7,"g":32.2},{"t":125,"n":33.8,"g":32.4},{"t":127,"n":33.4,"g":29.2},{"t":129,"n":35.1,"g":31.6},{"t":131,"n":33.2,"g":31.8},{"t":133,"n":32.8,"g":32.6},{"t":135,"n":33.5,"g":32.8},{"t":137,"n":32.4,"g":33.0},{"t":139,"n":33.1,"g":34.6},
{"t":141,"n":32.2,"g":34.0},{"t":143,"n":32.9,"g":32.6},{"t":145,"n":33.3,"g":32.9},{"t":147,"n":32.6,"g":31.8},{"t":149,"n":32.2,"g":33.4},{"t":151,"n":33.4,"g":33.6},{"t":153,"n":33.9,"g":32.2},{"t":155,"n":32.4,"g":31.9},{"t":157,"n":32.0,"g":32.5},{"t":159,"n":32.3,"g":33.3},
{"t":161,"n":32.8,"g":30.7},{"t":163,"n":31.9,"g":31.2},{"t":165,"n":32.4,"g":32.8},{"t":167,"n":32.9,"g":33.4},{"t":169,"n":33.2,"g":33.1},{"t":171,"n":32.3,"g":32.7},{"t":173,"n":32.1,"g":33.0},{"t":175,"n":32.8,"g":33.6},{"t":177,"n":33.0,"g":32.5},{"t":179,"n":32.5,"g":32.1},
{"t":181,"n":32.1,"g":32.8},{"t":183,"n":30.2,"g":33.0},{"t":185,"n":31.5,"g":32.4},{"t":187,"n":31.8,"g":33.6},{"t":189,"n":32.6,"g":33.5},{"t":191,"n":33.4,"g":33.1},{"t":193,"n":32.8,"g":32.4},{"t":195,"n":32.1,"g":33.2},{"t":197,"n":32.0,"g":33.8},{"t":199,"n":32.4,"g":32.9}
]
},
"vconcat": [
{
  "width": 367, "height": 133,
  "resolve": {"axis": {"x": "independent", "y": "independent"}},
  "layer": [
    {"data": {"name": "A"}, "transform": [{"fold": ["a", "c", "b", "d"], "as": ["s", "v"]}],
     "mark": {"type": "line", "strokeWidth": 1},
     "encoding": {
       "x": {"field": "t", "type": "quantitative", "title": "time (ns)", "scale": {"domain": [0, 200], "nice": false}, "axis": {"values": [0, 50, 100, 150, 200], "format": "d", "labelAngle": -45, "labelOverlap": false, "titleFont": "Liberation Sans", "titleFontWeight": "bold", "titleFontSize": 14, "titleY": 34, "titleBaseline": "middle"}},
       "y": {"field": "v", "type": "quantitative", "title": "Rmsd (Å)", "scale": {"domain": [0, 4.5], "nice": false}, "axis": {"values": [0, 0.5, 1, 1.5, 2, 2.5, 3, 3.5, 4, 4.5], "labelOverlap": false, "labelExpr": "datum.value == 0.5 ? '0,5' : format(datum.value, '~g')"}},
       "color": {"field": "s", "type": "nominal", "scale": {"domain": ["a", "c", "b", "d"], "range": ["#1f1f8f", "#3f7f1f", "#3f5fef", "#b4d23c"]}, "legend": null}
     }},
    {"data": {"values": [{"lab": "A"}]},
     "mark": {"type": "text", "font": "Liberation Serif", "fontSize": 18, "align": "center", "baseline": "middle", "color": "#000000"},
     "encoding": {"x": {"datum": -24, "axis": null}, "y": {"datum": 4.33, "axis": null}, "text": {"field": "lab"}}}
  ]
},
{
  "width": 367, "height": 103,
  "resolve": {"axis": {"x": "independent", "y": "independent"}},
  "layer": [
    {"data": {"name": "B"}, "transform": [{"fold": ["g", "n"], "as": ["s", "v"]}],
     "mark": {"type": "line", "strokeWidth": 1, "interpolate": "step-after"},
     "encoding": {
       "x": {"field": "t", "type": "quantitative", "title": "time (ns)", "scale": {"domain": [0, 200], "nice": false}, "axis": {"values": [0, 50, 100, 150, 200], "format": "d", "labelAngle": -45, "labelOverlap": false, "titleFont": "Liberation Sans", "titleFontWeight": "bold", "titleFontSize": 14, "titleY": 34, "titleBaseline": "middle"}},
       "y": {"field": "v", "type": "quantitative", "title": "% canonical", "scale": {"domain": [60, 110], "nice": false, "zero": false}, "axis": {"values": [60, 70, 80, 90, 100, 110], "format": "d", "labelOverlap": false}},
       "color": {"field": "s", "type": "nominal", "scale": {"domain": ["g", "n"], "range": ["#8cf050", "#1c1c85"]}, "legend": null}
     }},
    {"data": {"values": [{"v": 105}]}, "mark": {"type": "rule", "color": "#e86060", "strokeWidth": 1, "strokeDash": [6, 2, 1, 2]}, "encoding": {"y": {"field": "v", "type": "quantitative", "axis": null}}},
    {"data": {"values": [{"v": 93}]}, "mark": {"type": "rule", "color": "#ff1010", "strokeWidth": 1.5}, "encoding": {"y": {"field": "v", "type": "quantitative", "axis": null}}},
    {"data": {"values": [{"v": 90}]}, "mark": {"type": "rule", "color": "#202020", "strokeWidth": 1}, "encoding": {"y": {"field": "v", "type": "quantitative", "axis": null}}},
    {"data": {"values": [{"v": 81}]}, "mark": {"type": "rule", "color": "#606060", "strokeWidth": 1, "strokeDash": [5, 3]}, "encoding": {"y": {"field": "v", "type": "quantitative", "axis": null}}},
    {"data": {"values": [{"lab": "B"}]},
     "mark": {"type": "text", "font": "Liberation Serif", "fontSize": 18, "align": "center", "baseline": "middle", "color": "#000000"},
     "encoding": {"x": {"datum": -23, "axis": null}, "y": {"datum": 114.4, "axis": null}, "text": {"field": "lab"}}},
    {"data": {"values": [{"lab": "% canonical alfa,gamma"}]},
     "mark": {"type": "text", "font": "Liberation Sans", "fontSize": 11, "fontWeight": "bold", "align": "center", "baseline": "middle", "color": "#000000"},
     "encoding": {"x": {"datum": 94, "axis": null}, "y": {"datum": 114.4, "axis": null}, "text": {"field": "lab"}}}
  ]
},
{
  "width": 367, "height": 112,
  "resolve": {"axis": {"x": "independent", "y": "independent"}},
  "layer": [
    {"data": {"name": "C"}, "transform": [{"fold": ["un", "ln", "ug", "lg"], "as": ["s", "v"]}],
     "mark": {"type": "line", "strokeWidth": 1},
     "encoding": {
       "x": {"field": "t", "type": "quantitative", "title": "time (ns)", "scale": {"domain": [0, 200], "nice": false}, "axis": {"values": [0, 50, 100, 150, 200], "format": "d", "labelAngle": -45, "labelOverlap": false, "titleFont": "Liberation Sans", "titleFontWeight": "bold", "titleFontSize": 14, "titleY": 34, "titleBaseline": "middle"}},
       "y": {"field": "v", "type": "quantitative", "title": "Width (Å)", "scale": {"domain": [7, 27], "nice": false, "zero": false}, "axis": {"values": [7, 9, 11, 13, 15, 17, 19, 21, 23, 25, 27], "format": "d", "labelOverlap": false}},
       "color": {"field": "s", "type": "nominal", "scale": {"domain": ["un", "ln", "ug", "lg"], "range": ["#20208a", "#20208a", "#80f040", "#80f040"]}, "legend": null}
     }},
    {"data": {"values": [{"v": 18}]}, "mark": {"type": "rule", "color": "#3a1050", "strokeWidth": 1.5}, "encoding": {"y": {"field": "v", "type": "quantitative", "axis": null}}},
    {"data": {"values": [{"v": 15}]}, "mark": {"type": "rule", "color": "#e040e0", "strokeWidth": 1, "strokeDash": [1, 2]}, "encoding": {"y": {"field": "v", "type": "quantitative", "axis": null}}},
    {"data": {"values": [{"v": 13}]}, "mark": {"type": "rule", "color": "#e04040", "strokeWidth": 1, "strokeDash": [1, 2]}, "encoding": {"y": {"field": "v", "type": "quantitative", "axis": null}}},
    {"data": {"values": [{"v": 12}]}, "mark": {"type": "rule", "color": "#e03a10", "strokeWidth": 2}, "encoding": {"y": {"field": "v", "type": "quantitative", "axis": null}}},
    {"data": {"values": [{"v": 10}]}, "mark": {"type": "rule", "color": "#707070", "strokeWidth": 3, "strokeDash": [6, 3]}, "encoding": {"y": {"field": "v", "type": "quantitative", "axis": null}}},
    {"data": {"values": [{"lab": "C"}]},
     "mark": {"type": "text", "font": "Liberation Serif", "fontSize": 18, "align": "center", "baseline": "middle", "color": "#000000"},
     "encoding": {"x": {"datum": -23, "axis": null}, "y": {"datum": 29, "axis": null}, "text": {"field": "lab"}}},
    {"data": {"values": [{"lab": "groove distances"}]},
     "mark": {"type": "text", "font": "Liberation Sans", "fontSize": 11, "fontWeight": "bold", "align": "center", "baseline": "middle", "color": "#000000"},
     "encoding": {"x": {"datum": 95, "axis": null}, "y": {"datum": 29, "axis": null}, "text": {"field": "lab"}}}
  ]
},
{
  "width": 367, "height": 123,
  "resolve": {"axis": {"x": "independent", "y": "independent"}},
  "layer": [
    {"data": {"name": "D"}, "transform": [{"fold": ["n", "g"], "as": ["s", "v"]}],
     "mark": {"type": "line", "strokeWidth": 1},
     "encoding": {
       "x": {"field": "t", "type": "quantitative", "title": "time (ns)", "scale": {"domain": [0, 200], "nice": false}, "axis": {"values": [0, 50, 100, 150, 200], "format": "d", "labelAngle": -45, "labelOverlap": false, "titleFont": "Liberation Sans", "titleFontWeight": "bold", "titleFontSize": 14, "titleY": 34, "titleBaseline": "middle"}},
       "y": {"field": "v", "type": "quantitative", "title": "Twist (°)", "scale": {"domain": [25, 40], "nice": false, "zero": false}, "axis": {"values": [25, 27, 29, 31, 33, 35, 37, 39], "format": "d", "labelOverlap": false}},
       "color": {"field": "s", "type": "nominal", "scale": {"domain": ["n", "g"], "range": ["#20208a", "#80f040"]}, "legend": null}
     }},
    {"data": {"values": [{"v": 36}]}, "mark": {"type": "rule", "color": "#e86060", "strokeWidth": 1, "strokeDash": [2, 2]}, "encoding": {"y": {"field": "v", "type": "quantitative", "axis": null}}},
    {"data": {"values": [{"v": 35}]}, "mark": {"type": "rule", "color": "#000000", "strokeWidth": 2}, "encoding": {"y": {"field": "v", "type": "quantitative", "axis": null}}},
    {"data": {"values": [{"v": 34}]}, "mark": {"type": "rule", "color": "#ff0000", "strokeWidth": 2}, "encoding": {"y": {"field": "v", "type": "quantitative", "axis": null}}},
    {"data": {"values": [{"lab": "D"}]},
     "mark": {"type": "text", "font": "Liberation Serif", "fontSize": 18, "align": "center", "baseline": "middle", "color": "#000000"},
     "encoding": {"x": {"datum": -23, "axis": null}, "y": {"datum": 41.1, "axis": null}, "text": {"field": "lab"}}},
    {"data": {"values": [{"lab": "Twist"}]},
     "mark": {"type": "text", "font": "Liberation Sans", "fontSize": 11, "fontWeight": "bold", "align": "center", "baseline": "middle", "color": "#000000"},
     "encoding": {"x": {"datum": 94, "axis": null}, "y": {"datum": 41.1, "axis": null}, "text": {"field": "lab"}}}
  ]
}
]
}
